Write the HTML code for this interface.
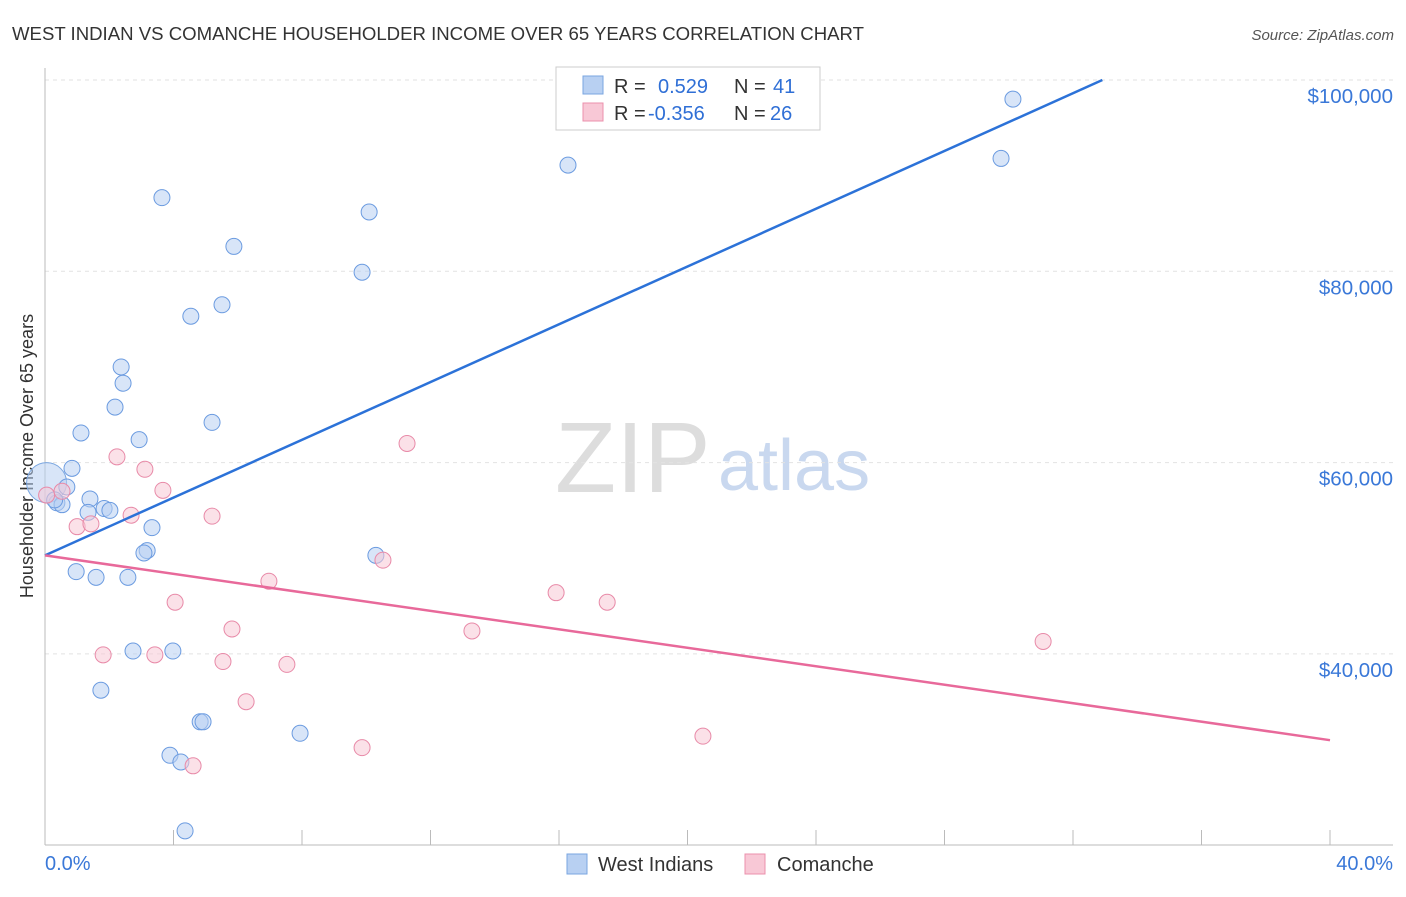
<!DOCTYPE html>
<html><head><meta charset="utf-8"><style>
body{margin:0;background:#fff;font-family:"Liberation Sans",sans-serif}
svg text{font-family:"Liberation Sans",sans-serif}
</style></head><body>
<svg id="c" width="1406" height="892" xmlns="http://www.w3.org/2000/svg">
<text x="12" y="40" font-size="18" fill="#333" textLength="852" lengthAdjust="spacingAndGlyphs">WEST INDIAN VS COMANCHE HOUSEHOLDER INCOME OVER 65 YEARS CORRELATION CHART</text>
<text x="1394" y="40" font-size="15" fill="#555" text-anchor="end" font-style="italic">Source: ZipAtlas.com</text>
<text x="33" y="456" font-size="18" fill="#333" text-anchor="middle" transform="rotate(-90 33 456)">Householder Income Over 65 years</text>
<text x="555" y="492" font-size="100" fill="#ddd" font-family="Liberation Serif">ZIP</text>
<text x="718" y="490" font-size="72" fill="#c9d8ef">atlas</text>
<g id="grid"></g><g id="pts"></g><g id="lines"></g>
<g>
<rect x="556" y="67" width="264" height="63" fill="#fff" stroke="#ccc"/>
<rect x="583" y="76" width="20" height="18" fill="#b8d0f2" stroke="#7aa6e0"/>
<rect x="583" y="103" width="20" height="18" fill="#f8c8d6" stroke="#eb90ac"/>
<text x="614" y="93" font-size="20" fill="#333">R = <tspan fill="#2f6fd6" x="658">0.529</tspan><tspan x="734" fill="#333">N = </tspan><tspan fill="#2f6fd6" x="773">41</tspan></text>
<text x="614" y="120" font-size="20" fill="#333">R = <tspan fill="#2f6fd6" x="648">-0.356</tspan><tspan x="734" fill="#333">N = </tspan><tspan fill="#2f6fd6" x="770">26</tspan></text>
</g>
<g>
<rect x="567" y="854" width="20" height="20" fill="#b8d0f2" stroke="#7aa6e0"/>
<text x="598" y="871" font-size="20" fill="#333">West Indians</text>
<rect x="745" y="854" width="20" height="20" fill="#f8c8d6" stroke="#eb90ac"/>
<text x="777" y="871" font-size="20" fill="#333">Comanche</text>
</g>
<text x="45" y="870" font-size="20" fill="#3a78d8">0.0%</text>
<text x="1393" y="870" font-size="20" fill="#3a78d8" text-anchor="end">40.0%</text>
</svg>
<script>
const yTicks=[100000,80000,60000,40000];
const yTickLabels=["$100,000","$80,000","$60,000","$40,000"];
const blueX=[0.68,0.37,0.53,1.40,1.84,2.02,1.34,0.84,1.12,2.18,2.37,2.43,2.93,3.33,3.18,3.08,0.97,1.59,2.58,5.20,4.54,5.51,5.88,3.64,10.09,9.87,16.28,30.13,29.76,10.30,2.74,3.98,1.74,4.83,4.92,7.94,3.89,4.23,4.36,0.3];
const blueY=[57.45,55.8,55.6,56.2,55.2,55.0,54.8,59.4,63.1,65.8,70.0,68.3,62.4,53.2,50.8,50.55,48.6,48.0,48.0,64.2,75.3,76.5,82.6,87.7,86.2,79.9,91.1,98.0,91.8,50.3,40.3,40.3,36.2,32.9,32.9,31.7,29.4,28.7,21.5,56.1];
const pinkX=[0.05,0.53,1.0,1.43,2.24,3.11,3.67,2.68,5.2,4.05,1.81,3.42,5.82,5.54,6.97,7.53,6.26,4.61,9.87,10.52,11.27,13.29,15.91,17.5,20.48,31.07];
const pinkY=[56.6,57.0,53.3,53.6,60.6,59.3,57.1,54.5,54.4,45.4,39.9,39.9,42.6,39.2,47.6,38.9,35.0,28.3,30.2,49.8,62.0,42.4,46.4,45.4,31.4,41.3];
const bigX=[0.05], bigY=[57.9];
const blueLine=[50.3,1.51]; const pinkLine=[50.3,-0.483];
const NS="http://www.w3.org/2000/svg";
const X=v=>45+v/40*1285;
const Y=k=>80+(100-k)/20*191.3;
function mk(t,a,p){const e=document.createElementNS(NS,t);for(const k in a)e.setAttribute(k,a[k]);p.appendChild(e);return e;}
const g=document.getElementById('grid');
yTicks.forEach((t,i)=>{const y=Y(t/1000);
const l=mk('line',{x1:45,x2:1393,y1:y,y2:y,stroke:'#e2e2e2','stroke-dasharray':'4,4'},g);


const tx=mk('text',{x:1393,y:y+23,'font-size':20.5,fill:'#3a78d8','text-anchor':'end'},g);tx.textContent=yTickLabels[i];

});
const ax=mk('line',{x1:45,x2:45,y1:68,y2:845,stroke:'#bbb'},g);


const bx=mk('line',{x1:45,x2:1393,y1:845,y2:845,stroke:'#bbb'},g);


for(let i=0;i<=10;i++){const x=X(i*4);const t=mk('line',{x1:x,x2:x,y1:830,y2:845,stroke:'#bbb'},g);

}
const p=document.getElementById('pts');
function dots(xs,ys,f,s,r,name){xs.forEach((v,i)=>{const c=mk('circle',{cx:X(v),cy:Y(ys[i]),r:r,fill:f,'fill-opacity':0.55,stroke:s,'stroke-width':1},p);

});}
dots(bigX,bigY,'#b8d0f2','#7aa6e0',20,'west-indian-point');
dots(blueX,blueY,'#b8d0f2','#6b9be0',8,'west-indian-point');
dots(pinkX,pinkY,'#f8c8d6','#e88aa8',8,'comanche-point');
const L=document.getElementById('lines');
const bEnd=(100-blueLine[0])/blueLine[1];
const b=mk('line',{x1:X(0),y1:Y(blueLine[0]),x2:X(bEnd),y2:Y(100),stroke:'#2c72d8','stroke-width':2.5},L);


const pl=mk('line',{x1:X(0),y1:Y(pinkLine[0]),x2:X(40),y2:Y(pinkLine[0]+pinkLine[1]*40),stroke:'#e8699a','stroke-width':2.5},L);


</script>
</body></html>
